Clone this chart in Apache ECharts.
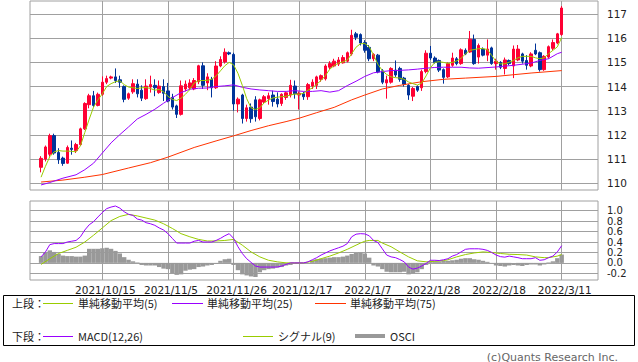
<!DOCTYPE html>
<html><head><meta charset="utf-8">
<script src="https://cdn.jsdelivr.net/npm/echarts@6/dist/echarts.min.js"></script>
<style>html,body{margin:0;padding:0;background:#fff}#c{width:638px;height:362px}</style>
</head><body><div id="c"></div>
<script>
// x position = trading-day index (0 = 2021/9/27, 119 = 2022/3/11)
const tickIdx = [14, 29, 44, 59, 74, 89, 104, 119];
const tickLabels = ['2021/10/15','2021/11/5','2021/11/26','2021/12/17','2022/1/7','2022/1/28','2022/2/18','2022/3/11'];
const priceTicks = [110, 111, 112, 113, 114, 115, 116, 117];
const macdTicks = [-0.2, 0, 0.2, 0.4, 0.6, 0.8, 1.0];

// [open, close, low, high]
const candles = [
[110.66,111.03,110.45,111.12],[111.00,111.50,110.90,111.56],[111.20,111.97,111.10,112.05],[111.97,111.25,111.18,112.05],
[111.27,110.97,110.80,111.45],[111.04,110.82,110.72,111.10],[110.83,111.48,110.80,111.56],[111.45,111.40,111.18,111.77],
[111.35,111.60,111.25,111.67],[111.60,112.25,111.55,112.30],[112.25,113.30,112.20,113.35],[113.25,113.62,113.10,113.70],
[113.62,113.22,113.15,113.82],[113.22,113.68,113.18,113.75],[113.68,114.18,113.62,114.42],[114.18,114.33,114.10,114.45],
[114.35,114.40,114.30,114.45],[114.40,114.25,114.15,114.75],[114.28,114.18,113.95,114.45],[114.00,113.47,113.35,114.05],
[113.52,113.70,113.45,113.75],[113.78,114.12,113.70,114.30],[114.10,113.70,113.55,114.30],[113.85,113.52,113.40,114.05],
[113.50,114.02,113.45,114.30],[113.98,114.08,113.75,114.45],[114.05,113.95,113.60,114.30],[113.75,114.02,113.70,114.25],
[114.00,113.72,113.40,114.30],[113.82,113.40,113.35,114.15],[113.55,113.15,113.05,113.70],[113.20,112.85,112.70,113.25],
[112.85,114.03,112.80,114.25],[113.90,114.10,113.80,114.25],[113.95,114.15,113.85,114.30],[113.90,114.25,113.85,114.35],
[114.20,114.86,114.10,114.90],[114.86,114.05,113.90,115.00],[114.15,114.40,113.85,114.55],[114.30,113.95,113.55,114.40],
[113.95,114.85,113.90,115.05],[114.85,115.12,114.80,115.25],[115.02,115.42,114.95,115.58],[115.40,115.35,115.30,115.45],
[115.33,113.28,113.00,115.40],[113.28,113.48,112.93,113.55],[113.65,112.68,112.47,113.70],[112.68,113.12,112.55,113.25],
[113.15,112.67,112.50,113.30],[113.45,112.75,112.55,113.60],[112.68,113.45,112.60,113.50],[113.36,113.58,113.30,113.65],
[113.50,113.62,113.25,113.75],[113.65,113.38,113.17,113.83],[113.48,113.28,113.14,113.76],[113.30,113.68,113.20,113.72],
[113.55,113.74,113.45,113.78],[113.65,114.05,113.55,114.28],[114.02,113.70,113.50,114.25],[113.65,113.72,113.05,113.80],
[113.70,113.58,113.45,113.78],[113.58,114.08,113.45,114.15],[114.02,114.18,113.90,114.30],[114.05,114.40,113.90,114.45],
[114.30,114.45,114.20,114.50],[114.32,114.85,114.25,114.92],[114.80,114.95,114.72,115.05],[114.85,115.05,114.80,115.15],
[114.93,115.10,114.85,115.22],[114.98,115.20,114.95,115.30],[115.05,115.40,115.00,115.45],[115.35,116.12,115.28,116.35],
[116.18,116.04,115.92,116.26],[116.15,115.80,115.70,116.20],[115.82,115.50,115.40,115.92],[115.62,115.15,115.05,115.72],
[115.15,115.33,115.05,115.38],[115.30,114.60,114.55,115.35],[114.65,114.18,114.10,114.72],[114.15,114.28,113.50,114.45],
[114.18,114.75,114.12,114.80],[114.68,114.48,114.40,115.08],[114.75,114.30,114.20,114.82],[114.35,114.10,114.00,114.40],
[114.05,113.65,113.45,114.10],[113.60,113.92,113.40,113.98],[114.00,113.85,113.78,114.05],[113.95,114.62,113.82,114.70],
[114.62,115.38,114.55,115.50],[115.38,115.18,115.10,115.68],[115.18,115.00,114.95,115.25],[115.08,114.68,114.60,115.12],
[114.70,114.38,114.12,114.75],[114.40,114.95,114.35,115.00],[114.88,115.18,114.82,115.40],[115.15,114.95,114.88,115.22],
[114.95,115.52,114.90,115.58],[115.50,115.35,115.30,115.58],[115.43,115.96,115.40,116.30],[115.95,114.95,114.90,116.15],
[115.22,115.70,114.95,115.78],[115.55,115.30,115.25,115.62],[115.30,115.55,115.05,115.95],[115.60,114.95,114.90,115.65],
[114.95,115.05,114.70,115.15],[115.00,114.80,114.72,115.05],[114.75,115.10,114.50,115.20],[115.08,114.95,114.88,115.12],
[114.85,115.55,114.35,115.70],[115.10,115.55,115.05,115.72],[115.35,115.05,114.95,115.40],[115.08,114.88,114.70,115.30],
[114.85,115.35,114.80,115.42],[115.50,115.35,115.30,115.78],[115.40,114.70,114.62,115.45],[114.70,115.25,114.65,115.30],
[115.22,115.65,115.15,115.70],[115.58,115.82,115.50,115.95],[115.80,116.18,115.75,116.22],[116.15,117.25,116.10,117.33]
];

const ma5 = [110.25,110.7,111.1,111.3,111.35,111.33,111.33,111.32,111.3,111.55,112.1,112.65,113.15,113.45,113.7,114.0,114.12,114.2,114.24,114.08,
113.98,113.95,113.92,113.95,113.96,113.92,113.85,113.88,113.78,113.6,113.47,113.42,113.52,113.68,113.88,114.15,114.24,114.25,114.26,114.3,
114.44,114.65,114.86,115.0,114.9,114.55,114.05,113.5,113.12,113.05,113.12,113.33,113.44,113.53,113.56,113.58,113.6,113.65,113.69,113.68,
113.72,113.85,113.94,114.1,114.25,114.46,114.72,114.87,114.97,115.02,115.1,115.36,115.63,115.77,115.78,115.65,115.3,114.92,114.66,114.5,
114.4,114.37,114.35,114.3,114.19,114.12,114.06,114.14,114.44,114.78,115.0,115.03,115.0,114.96,115.0,115.06,115.17,115.35,115.5,115.53,
115.57,115.57,115.53,115.29,115.04,114.94,114.94,115.01,115.08,115.19,115.25,115.25,115.25,115.19,115.15,115.19,115.36,115.5,115.64,116.03];

const ma25 = [[0,109.93],[2,110.03],[5,110.21],[8,110.35],[10,110.56],[12,110.83],[14,111.25],[16,111.67],[18,112.01],[20,112.33],
[22,112.66],[24,112.85],[26,113.06],[28,113.31],[30,113.54],[32,113.75],[34,113.89],[36,113.93],[38,113.94],[40,114.0],[42,114.03],
[44,114.07],[46,113.97],[48,113.9],[50,113.86],[52,113.83],[54,113.8],[56,113.8],[58,113.83],[60,113.8],[62,113.8],[64,113.83],
[66,113.77],[68,113.83],[70,114.04],[72,114.22],[74,114.42],[76,114.57],[78,114.62],[80,114.66],[82,114.67],[84,114.69],[86,114.72],
[88,114.76],[90,114.79],[92,114.8],[94,114.8],[96,114.8],[98,114.77],[100,114.76],[104,114.81],[108,114.88],[112,114.97],[114,115.08],
[116,115.15],[118,115.36],[119,115.42]];

const ma75 = [[0,110.05],[5,110.13],[10,110.25],[14,110.36],[20,110.63],[25,110.85],[29,111.08],[35,111.48],[40,111.75],[44,111.96],
[48,112.18],[52,112.38],[56,112.55],[59,112.69],[63,112.92],[67,113.14],[71,113.45],[74,113.65],[78,113.9],[82,114.05],[87,114.2],
[92,114.3],[97,114.35],[104,114.42],[112,114.56],[119,114.66]];

const macd = [0.115,0.21,0.35,0.37,0.37,0.37,0.40,0.415,0.43,0.5,0.63,0.73,0.79,0.88,0.965,1.04,1.07,1.09,1.05,0.98,
0.93,0.91,0.84,0.82,0.77,0.75,0.72,0.67,0.63,0.56,0.47,0.38,0.38,0.38,0.38,0.415,0.43,0.40,0.40,0.40,
0.43,0.47,0.52,0.56,0.47,0.31,0.18,0.08,0.01,-0.06,-0.08,-0.08,-0.08,-0.08,-0.08,-0.06,-0.03,0.0,0.0,0.0,
0.0,0.02,0.06,0.10,0.15,0.19,0.23,0.26,0.29,0.32,0.37,0.5,0.55,0.56,0.555,0.52,0.43,0.39,0.27,0.15,
0.115,0.1,0.064,0.02,-0.08,-0.12,-0.1,-0.06,-0.01,0.05,0.05,0.045,0.06,0.08,0.13,0.16,0.21,0.26,0.27,0.27,
0.27,0.26,0.24,0.2,0.15,0.12,0.11,0.13,0.115,0.1,0.08,0.08,0.08,0.1,0.05,0.06,0.1,0.13,0.21,0.33];

const signal = [[0,-0.03],[2,0.08],[4,0.18],[6,0.24],[8,0.3],[10,0.4],[12,0.53],[14,0.67],[16,0.81],[18,0.89],[20,0.93],
[22,0.9],[24,0.86],[26,0.82],[28,0.75],[30,0.66],[32,0.56],[34,0.5],[36,0.45],[38,0.42],[40,0.42],[42,0.43],[44,0.45],
[46,0.34],[48,0.21],[50,0.115],[52,0.05],[54,0.02],[56,0.0],[58,0.0],[60,0.0],[62,0.03],[64,0.08],[66,0.13],[68,0.19],
[70,0.26],[72,0.34],[73,0.38],[74,0.415],[75,0.43],[77,0.43],[78,0.38],[80,0.31],[82,0.21],[84,0.115],[86,0.04],[88,0.02],
[90,0.03],[92,0.045],[93,0.06],[95,0.115],[97,0.16],[99,0.19],[101,0.21],[103,0.2],[105,0.18],[107,0.165],[109,0.16],
[111,0.15],[113,0.115],[115,0.1],[116,0.1],[117,0.115],[118,0.13],[119,0.16]];

const osci = [0.13,0.2,0.24,0.21,0.17,0.14,0.13,0.13,0.12,0.12,0.14,0.27,0.27,0.27,0.28,0.29,0.27,0.23,0.18,0.11,
0.06,0.03,0.01,-0.04,-0.05,-0.05,-0.05,-0.08,-0.11,-0.12,-0.2,-0.23,-0.22,-0.15,-0.13,-0.12,-0.08,-0.07,-0.05,-0.04,
-0.02,0.04,0.07,0.08,-0.04,-0.14,-0.22,-0.24,-0.26,-0.27,-0.18,-0.14,-0.12,-0.11,-0.09,-0.08,-0.05,-0.04,-0.02,-0.01,
-0.01,0.0,0.05,0.07,0.08,0.09,0.1,0.11,0.11,0.12,0.14,0.17,0.19,0.2,0.18,0.1,-0.05,-0.07,-0.12,-0.17,
-0.18,-0.18,-0.18,-0.17,-0.22,-0.2,-0.18,-0.12,-0.04,0.03,0.03,0.03,0.04,0.04,0.05,0.06,0.08,0.09,0.09,0.07,
0.06,0.04,0.02,-0.01,-0.05,-0.06,-0.07,-0.05,-0.04,-0.05,-0.06,-0.04,-0.03,-0.03,-0.05,-0.03,0.01,0.03,0.09,0.16];

const C_UP = '#ff0033', C_DN = '#003399', C_MA5 = '#99cc00', C_MA25 = '#9900ff', C_MA75 = '#ff3300', C_OSC = '#999999';
const GRID = '#a0a0a0';
const FONT = 'DejaVu Sans';
const JP = '"Noto Sans CJK JP", sans-serif';

const withIdx = arr => arr.map((v, i) => [i, v]);
const xMin = -2.53, xMax = 127.3;

function xAxisCfg(gi, showLabel) {
  return {
    type: 'value', gridIndex: gi, min: xMin, max: xMax,
    axisLine: { show: false },
    axisTick: { show: false, customValues: tickIdx },
    splitLine: { show: true, lineStyle: { color: GRID, width: 1 } },
    axisLabel: {
      show: showLabel, customValues: tickIdx, margin: 4, hideOverlap: false,
      fontFamily: FONT, fontSize: 10.5, color: '#222', padding: [0, 0, 0, 6],
      formatter: v => tickLabels[tickIdx.indexOf(Math.round(v))] || ''
    }
  };
}

const chart = echarts.init(document.getElementById('c'), null, { renderer: 'svg' });
chart.setOption({
  animation: false,
  backgroundColor: '#fff',
  grid: [
    { left: 30, top: 1, width: 568, height: 189, show: true, borderColor: GRID, borderWidth: 1, outerBoundsMode: 'none' },
    { left: 30, top: 201, width: 568, height: 79, show: true, borderColor: GRID, borderWidth: 1, outerBoundsMode: 'none' }
  ],
  xAxis: [xAxisCfg(0, false), xAxisCfg(1, true)],
  yAxis: [
    { type: 'value', gridIndex: 0, position: 'right', min: 109.72, max: 117.54,
      axisLine: { show: false },
      axisTick: { show: true, length: 5, customValues: priceTicks, lineStyle: { color: GRID } },
      splitLine: { show: true, lineStyle: { color: GRID, width: 1 } },
      axisLabel: { customValues: priceTicks, margin: 9, hideOverlap: false, fontFamily: FONT, fontSize: 10.5, color: '#222' } },
    { type: 'value', gridIndex: 1, position: 'right', min: -0.328, max: 1.186,
      axisLine: { show: false },
      axisTick: { show: true, length: 5, customValues: macdTicks, lineStyle: { color: GRID } },
      splitLine: { show: true, lineStyle: { color: GRID, width: 1 } },
      axisLabel: { customValues: macdTicks, margin: 9, hideOverlap: false, fontFamily: FONT, fontSize: 10,
        lineHeight: 10, color: '#222', formatter: v => v.toFixed(1) } }
  ],
  series: [
    { type: 'candlestick', xAxisIndex: 0, yAxisIndex: 0, barWidth: 3,
      data: candles.map((c, i) => [i, c[0], c[1], c[2], c[3]]),
      encode: { x: 0, y: [1, 2, 3, 4] },
      itemStyle: { color: C_UP, color0: C_DN, borderColor: C_UP, borderColor0: C_DN, borderWidth: 1 } },
    { type: 'line', xAxisIndex: 0, yAxisIndex: 0, data: ma75, showSymbol: false, lineStyle: { color: C_MA75, width: 1 } },
    { type: 'line', xAxisIndex: 0, yAxisIndex: 0, data: ma25, showSymbol: false, lineStyle: { color: C_MA25, width: 1 } },
    { type: 'line', xAxisIndex: 0, yAxisIndex: 0, data: withIdx(ma5), showSymbol: false, lineStyle: { color: C_MA5, width: 1 } },
    { type: 'bar', xAxisIndex: 1, yAxisIndex: 1, data: withIdx(osci), barWidth: 4.4, itemStyle: { color: C_OSC } },
    { type: 'line', xAxisIndex: 1, yAxisIndex: 1, data: signal, showSymbol: false, lineStyle: { color: C_MA5, width: 1 } },
    { type: 'line', xAxisIndex: 1, yAxisIndex: 1, data: withIdx(macd), showSymbol: false, lineStyle: { color: C_MA25, width: 1 } }
  ],
  graphic: [
    { type: 'rect', shape: { x: 3.5, y: 295.5, width: 631, height: 50 }, style: { fill: 'none', stroke: '#000', lineWidth: 1 } },
    { type: 'text', x: 12, y: 303, style: { text: '上段：', font: '11px ' + JP, fill: '#222', verticalAlign: 'middle' } },
    { type: 'line', shape: { x1: 43, y1: 303.5, x2: 73, y2: 303.5 }, style: { stroke: C_MA5, lineWidth: 1 } },
    { type: 'text', x: 78, y: 303, style: { text: '単純移動平均(5)', font: '11px ' + JP, fill: '#222', verticalAlign: 'middle' } },
    { type: 'line', shape: { x1: 172, y1: 303.5, x2: 203, y2: 303.5 }, style: { stroke: C_MA25, lineWidth: 1 } },
    { type: 'text', x: 207, y: 303, style: { text: '単純移動平均(25)', font: '11px ' + JP, fill: '#222', verticalAlign: 'middle' } },
    { type: 'line', shape: { x1: 315, y1: 303.5, x2: 346, y2: 303.5 }, style: { stroke: C_MA75, lineWidth: 1 } },
    { type: 'text', x: 350, y: 303, style: { text: '単純移動平均(75)', font: '11px ' + JP, fill: '#222', verticalAlign: 'middle' } },
    { type: 'text', x: 12, y: 336, style: { text: '下段：', font: '11px ' + JP, fill: '#222', verticalAlign: 'middle' } },
    { type: 'line', shape: { x1: 43, y1: 336.5, x2: 73, y2: 336.5 }, style: { stroke: C_MA25, lineWidth: 1 } },
    { type: 'text', x: 78, y: 336, style: { text: 'MACD(12,26)', font: '11px ' + JP, fill: '#222', verticalAlign: 'middle' } },
    { type: 'line', shape: { x1: 243, y1: 336.5, x2: 273, y2: 336.5 }, style: { stroke: C_MA5, lineWidth: 1 } },
    { type: 'text', x: 278, y: 336, style: { text: 'シグナル(9)', font: '11px ' + JP, fill: '#222', verticalAlign: 'middle' } },
    { type: 'line', shape: { x1: 355, y1: 336, x2: 385, y2: 336 }, style: { stroke: C_OSC, lineWidth: 4 } },
    { type: 'text', x: 390, y: 336, style: { text: 'OSCI', font: '11px ' + JP, fill: '#222', verticalAlign: 'middle' } },
    { type: 'text', x: 618, y: 357, style: { text: '(c)Quants Research Inc.', font: '11px ' + FONT, fill: '#666', align: 'right', verticalAlign: 'middle' } }
  ]
});
</script></body></html>
